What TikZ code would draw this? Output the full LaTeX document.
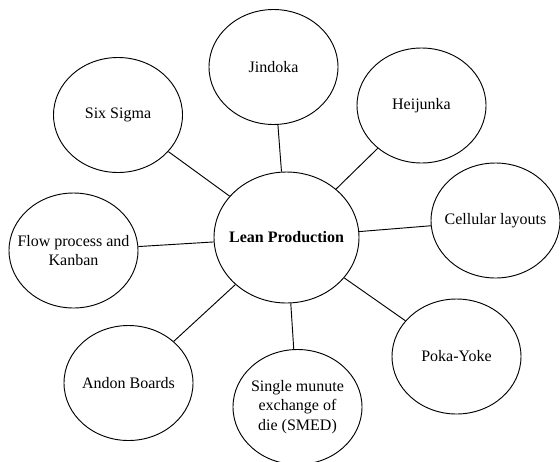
\documentclass[tikz,border=0pt]{standalone}
\usepackage{fontspec}
\setmainfont{Liberation Serif}
\usetikzlibrary{shapes.geometric}

\begin{document}
\begin{tikzpicture}[x=0.75pt,y=-0.75pt,line width=0.7pt,font=\fontsize{12}{14.5}\selectfont]
\tikzstyle{every label}=[align=center, inner sep=0pt]
\tikzstyle{tool} = [draw, ellipse, inner sep=0pt, minimum width=96.75pt, minimum height=86.25pt]
\tikzstyle{hub} = [draw, ellipse, inner sep=0pt, minimum width=108.75pt, minimum height=98.25pt]

\useasboundingbox (0,0) rectangle (560,461);
\clip (0,0) rectangle (560,461);

\node[hub, label={center:\textbf{Lean Production}}]              (0) at (286.5,237.5) {};
\node[tool, label={center:Jindoka}]                              (1) at (273.5,67)    {};
\node[tool, label={center:Heijunka}]                             (2) at (421.5,105.5) {};
\node[tool, label={center:Cellular layouts}]                     (3) at (495.5,220.5) {};
\node[tool, label={center:Poka-Yoke}]                            (4) at (456.5,356.5) {};
\node[tool, label={center:Single munute\\exchange of\\die (SMED)}] (5) at (297.5,407)   {};
\node[tool, label={center:Andon Boards}]                         (6) at (128.5,383)   {};
\node[tool, label={center:Flow process and\\Kanban}]             (7) at (73.5,250.5)  {};
\node[tool, label={center:Six Sigma}]                            (8) at (118,115)     {};
\path
(0) edge (1)
    edge (2)
    edge (3)
    edge (4)
    edge (5)
    edge (6)
    edge (7)
    edge (8);
\end{tikzpicture}
\end{document}
